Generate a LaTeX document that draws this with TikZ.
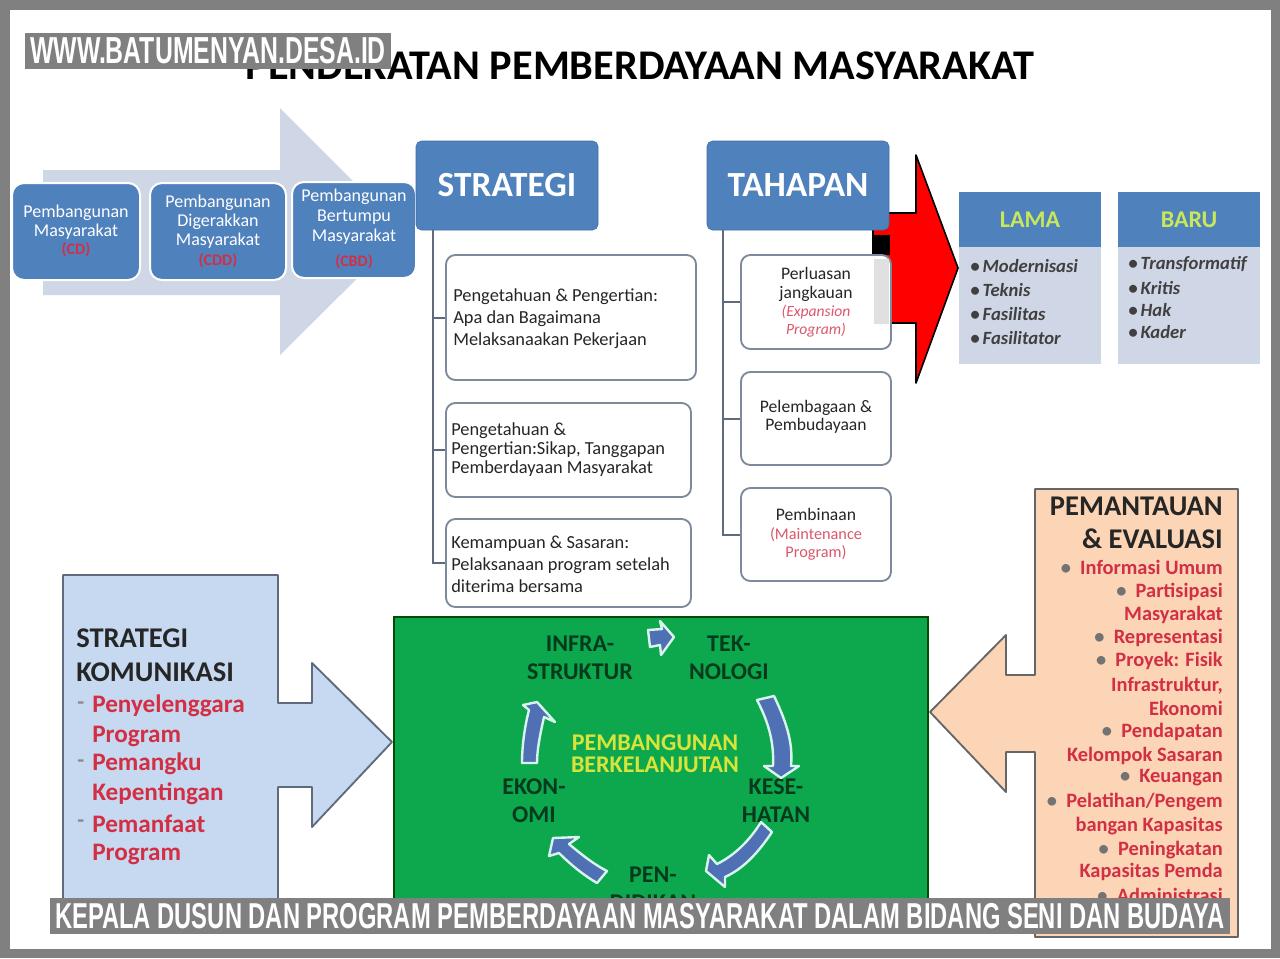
\documentclass[tikz,border=0pt]{standalone}
\usepackage{fontspec}
\setmainfont{Carlito}
\newfontfamily\capfont[FakeStretch=0.66]{Liberation Sans}
\definecolor{framegrey}{HTML}{808080}
\definecolor{bluefill}{HTML}{4F81BD}
\definecolor{paleblue}{HTML}{CFD6E6}
\definecolor{boxline}{HTML}{7C8A9C}
\definecolor{treegrey}{HTML}{5F6B7C}
\definecolor{labelred}{HTML}{D22F45}
\definecolor{skyfill}{HTML}{C6D9F1}
\definecolor{peachfill}{HTML}{FBD5B5}
\definecolor{leafgreen}{HTML}{0DA84E}
\definecolor{darkleaf}{HTML}{063A1C}
\definecolor{yellowtxt}{HTML}{D8E43A}
\definecolor{limetxt}{HTML}{C8E85A}
\definecolor{cycleblue}{HTML}{4F70B4}
\definecolor{cycleline}{HTML}{D8F5EC}
\newcommand{\pt}[1]{\fontsize{#1}{#1}\selectfont}
\newcommand{\gbul}{\textcolor{black!55}{\textbullet}}
\newcommand{\stagered}[1]{\textcolor{labelred}{\bfseries\pt{12}#1}}
\def\px{0.75pt}
\tikzset{
  stagebox/.style={draw=white,line width=1.5pt,fill=bluefill,rounded corners=9pt,text=white,align=center,font=\pt{13.5}},
  headbox/.style={fill=bluefill,draw=bluefill!85!black,rounded corners=4pt,text=white,font=\bfseries\pt{26.5},minimum width=182*\px,minimum height=89*\px},
  stratbox/.style={draw=boxline,line width=1.4pt,fill=white,rounded corners=7pt,inner sep=0pt},
  treeline/.style={draw=treegrey,line width=1.5pt},
  boxtxt/.style={anchor=west,align=left,inner sep=0pt,font=\pt{13.8},text=black!85},
  stagetxt/.style={align=center,font=\pt{13.2},text=black!85},
  listhead/.style={fill=bluefill,minimum width=142*\px,minimum height=55*\px,text=limetxt,font=\bfseries\pt{18}},
  listbody/.style={fill=paleblue,minimum width=142*\px,minimum height=117*\px},
  listtxt/.style={anchor=west,inner sep=0pt,font=\bfseries\itshape\pt{14},text=black!75},
  cycletxt/.style={text=darkleaf,font=\bfseries\pt{18}},
  centretxt/.style={text=yellowtxt,font=\bfseries\pt{18}},
  cyclearrow/.style={fill=cycleblue,draw=cycleline,line width=1.8pt,line join=round},
  redtxt/.style={text=labelred,inner sep=0pt,font=\bfseries\pt{18.9}},
  evaltxt/.style={anchor=east,inner sep=0pt,text=labelred,font=\bfseries\pt{15.3}},
  stamp/.style={fill=framegrey,text=white,font=\capfont\bfseries\pt{27},inner sep=0pt}
}
\begin{document}
\begin{tikzpicture}[x=0.75pt,y=-0.75pt]
   \useasboundingbox (0,0) rectangle (1280,958);
   \fill[framegrey] (0,0) rectangle (1280,958);
   \fill[white] (10,10) rectangle (1271,949);
   \node (title) at (640,66) {\bfseries\pt{31.7}PENDEKATAN PEMBERDAYAAN MASYARAKAT};
   % stages
   \fill[paleblue] (43,170) -- (280,170) -- (280,108) -- (404,232) -- (280,355) -- (280,295) -- (43,295) -- cycle;
   \node (stageA) [stagebox,minimum width=128*\px,minimum height=97*\px] at (76,231.5) {};
   \node (stageB) [stagebox,minimum width=136*\px,minimum height=97*\px] at (218,231.5) {};
   \node (stageC) [stagebox,minimum width=124*\px,minimum height=96*\px] at (354,230) {};
   \node (stageAtxt) [stagebox,draw=none,fill=none] at (76,231) {Pembangunan\\[1pt]Masyarakat\\[0pt]\stagered{(CD)}};
   \node (stageBtxt) [stagebox,draw=none,fill=none] at (218,231) {Pembangunan\\[1pt]Digerakkan\\[1pt]Masyarakat\\[1pt]\stagered{(CDD)}};
   \node (stageCtxt) [stagebox,draw=none,fill=none] at (354,229) {Pembangunan\\[1.5pt]Bertumpu\\[1.5pt]Masyarakat\\[5pt]\stagered{(CBD)}};
   % red arrow
   \draw[fill=red,line width=1.2pt,line join=round] (873,213) -- (916,213) -- (916,155) -- (958,268) -- (916,383) -- (916,323) -- (873,323) -- cycle;
   \fill[black] (873,235) rectangle (890,255);
   % strategi and tahapan
   \node (strategi) [headbox] at (507,185.5) {STRATEGI};
   \node (tahapan) [headbox] at (798,185.5) {TAHAPAN};
   \node (stratA) [stratbox,minimum width=250*\px,minimum height=125*\px] at (571,317.5) {};
   \node (stratB) [stratbox,minimum width=245*\px,minimum height=94*\px] at (568.5,450) {};
   \node (stratC) [stratbox,minimum width=245*\px,minimum height=88*\px] at (568.5,563) {};
   \node (tahapA) [stratbox,minimum width=150*\px,minimum height=94*\px] at (816,302) {};
   \node (tahapB) [stratbox,minimum width=150*\px,minimum height=93*\px] at (816,418.5) {};
   \node (tahapC) [stratbox,minimum width=150*\px,minimum height=93*\px] at (816,534.5) {};
   \fill[black!12] (874,259) rectangle (889,324);
   \coordinate (strategiroot) at (433,230);
   \coordinate (tahapanroot) at (723,230);
   \foreach \b in {stratA,stratB,stratC} {
    \draw[treeline] (strategiroot) |- (\b.west);
   }
   \foreach \b in {tahapA,tahapB,tahapC} {
    \draw[treeline] (tahapanroot) |- (\b.west);
   }
   \node (stratAtxt) [boxtxt] at (453,319) {Pengetahuan \& Pengertian:\\[2.7pt]Apa dan Bagaimana\\[2.7pt]Melaksanaakan Pekerjaan};
   \node (stratBtxt) [boxtxt] at (451,450) {Pengetahuan \&\\[0.5pt]Pengertian:Sikap, Tanggapan\\[0.5pt]Pemberdayaan Masyarakat};
   \node (stratCtxt) [boxtxt] at (451,564) {Kemampuan \& Sasaran:\\[2.7pt]Pelaksanaan program setelah\\[2.7pt]diterima bersama};
   \node (tahapAtxt) [stagetxt] at (816,302) {Perluasan\\[1.2pt]jangkauan\\[0.5pt]\textcolor{labelred!80}{\itshape\pt{11.7}(Expansion}\\\textcolor{labelred!80}{\itshape\pt{11.7}Program)}};
   \node (tahapBtxt) [stagetxt] at (816,417) {Pelembagaan \&\\[0pt]Pembudayaan};
   \node (tahapCtxt) [stagetxt] at (816,534) {Pembinaan\\[1pt]\textcolor{labelred!80}{\pt{12.2}(Maintenance}\\[0.5pt]\textcolor{labelred!80}{\pt{12.2}Program)}};
   % lama and baru
   \node (lamabody) [listbody] at (1030,305.5) {};
   \node (lama) [listhead] at (1030,219.5) {LAMA};
   \node (barubody) [listbody] at (1189,305.5) {};
   \node (baru) [listhead] at (1189,219.5) {BARU};
   \foreach \y/\t in {266/Modernisasi,290/Teknis,314/Fasilitas,338/Fasilitator} {
    \node (lama\y) [listtxt] at (970,\y) {\textbullet\,\t};
   }
   \foreach \y/\t in {264/Transformatif,288/Kritis,310/Hak,332/Kader} {
    \node (baru\y) [listtxt] at (1128,\y) {\textbullet\,\t};
   }
   % komunikasi
   \draw[fill=skyfill,draw=treegrey,line width=1.4pt,line join=round] (63,910) -- (63,575) -- (278,575) -- (278,703) -- (312,703) -- (312,663) -- (392,742) -- (312,827) -- (312,787) -- (278,787) -- (278,910) -- cycle;
   \node (komhead) [anchor=west,inner sep=0pt,align=left,font=\bfseries\pt{21.4},text=black!85] at (76,655) {STRATEGI\\[4pt]KOMUNIKASI};
   \foreach \y/\t in {736/Program,794/Kepentingan,854/Program} {
    \node (kom\y) [redtxt,anchor=west] at (92,\y) {\t};
   }
   \foreach \y/\t in {706/Penyelenggara,764/Pemangku,824/Pemanfaat} {
    \node (kom\y) [redtxt,anchor=west] at (92,\y) {\t};
    \node (dash\y) [anchor=west,inner sep=0pt,text=black!45,font=\bfseries\pt{17}] at (77,\y) {-};
   }
   % keberlanjutan
   \draw[fill=leafgreen,draw=green!30!black,line width=1.2pt] (394,910) -- (394,617) -- (928,617) -- (928,910) -- cycle;
   \node (infra) [cycletxt,align=center] at (580,658) {INFRA-\\[3pt]STRUKTUR};
   \node (tekno) [cycletxt,align=center] at (729,658) {TEK-\\[3pt]NOLOGI};
   \node (ekonomi) [cycletxt,align=center] at (534,801) {EKON-\\[3pt]OMI};
   \node (kesehatan) [cycletxt,align=center] at (776,801) {KESE-\\[3pt]HATAN};
   \node (pendidikan) [cycletxt,align=center] at (653,889) {PEN-\\[3pt]DIDIKAN};
   \node (berkelanjutan) [centretxt,align=center] at (655,754) {PEMBANGUNAN\\[-1.5pt]BERKELANJUTAN};
   \draw[cyclearrow] (648,630) -- (662,629) -- (660,621) -- (674,637) -- (661,655) -- (660,645) -- (650,647) -- cycle;
   \draw[cyclearrow] (757,700) -- (774,696) .. controls (788,725) and (793,745) .. (791,766) -- (799,766) -- (781,778) -- (764,766) -- (773,766) .. controls (774,745) and (770,725) .. (757,700) -- cycle;
   \draw[cyclearrow] (772,832) .. controls (760,850) and (745,868) .. (725,877) -- (725,887) -- (706,871) -- (709,855) -- (717,864) .. controls (735,855) and (750,840) .. (761,822) -- cycle;
   \draw[cyclearrow] (607,871) -- (597,883) .. controls (585,876) and (572,866) .. (559,853) -- (549,856) -- (553,838) -- (579,837) -- (569,844) .. controls (582,855) and (595,865) .. (607,871) -- cycle;
   \draw[cyclearrow] (522,763) .. controls (522,745) and (525,725) .. (529,710) -- (523,705) -- (537,702) -- (555,722) -- (544,717) .. controls (540,735) and (537,750) .. (537,763) -- cycle;
   % pemantauan
   \draw[fill=peachfill,draw=black!60,line width=1.4pt,line join=round] (1238,489) -- (1035,489) -- (1035,675) -- (1006,675) -- (1006,635) -- (930,712) -- (1006,792) -- (1006,752) -- (1035,752) -- (1035,937) -- (1238,937) -- cycle;
   \node (pemhead) [anchor=east,inner sep=0pt,align=right,font=\bfseries\pt{21.4},text=black!85] at (1223,522.5) {PEMANTAUAN\\[3.4pt]\&\ EVALUASI};
   \foreach \y/\t in {567/{\gbul\ \ Informasi Umum},592/{\gbul\ \ Partisipasi},615/Masyarakat,638/{\gbul\ \ Representasi},
    661/{\gbul\ \ Proyek: Fisik},686/{Infrastruktur,},708/Ekonomi,732/{\gbul\ \ Pendapatan},756/Kelompok Sasaran,
    778/{\gbul\ \ Keuangan},802/{\gbul\ \ Pelatihan/Pengem},826/bangan Kapasitas,850/{\gbul\ \ Peningkatan},
    872/Kapasitas Pemda,895/{\gbul\ \ Administrasi}} {
    \node (eval\y) [evaltxt] at (1223,\y) {\t};
   }
   % stamps
   \node (site) [stamp,minimum width=366*\px,minimum height=36*\px] at (208,51) {\pt{28.2}WWW.BATUMENYAN.DESA.ID};
   \node (caption) [stamp,minimum width=1180*\px,minimum height=36*\px] at (640,916) {\pt{27}KEPALA DUSUN DAN PROGRAM PEMBERDAYAAN MASYARAKAT DALAM BIDANG SENI DAN BUDAYA};
  \end{tikzpicture}
\end{document}
